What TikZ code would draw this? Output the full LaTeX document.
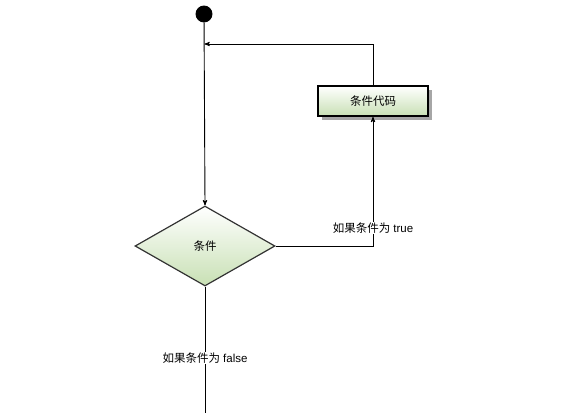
\documentclass[tikz,border=0pt]{standalone}
\usepackage{fontspec}
\setmainfont{Liberation Sans}
\newfontfamily\cjk{Noto Sans CJK SC}
\usetikzlibrary{arrows,shapes.geometric,shadows}
\definecolor{leafgreen}{RGB}{200,224,180}
\begin{document}
\begin{tikzpicture}[x=1pt,y=-1pt,->,>=stealth',thick,
  line width=0.9pt,font=\fontsize{11.5}{13}\selectfont,
  start node/.style={circle,fill=black,draw,minimum size=16pt,inner sep=0pt},
  test node/.style={diamond,draw=black!80,line width=1.2pt,minimum width=140pt,
    minimum height=80pt,inner sep=0pt,top color=white,bottom color=leafgreen},
  code node/.style={rectangle,draw,line width=1.6pt,minimum width=110pt,
    minimum height=30pt,top color=white,bottom color=leafgreen,
    drop shadow={shadow xshift=4pt,shadow yshift=-4pt,fill=black!35,opacity=1}},
  branch/.style={fill=white,inner sep=1pt}]
  \useasboundingbox (0,0) rectangle (564,413);

  \node[start node] (start) at (204,14) {};
  \node[test node] (cond) at (205,246) {\cjk 条件};
  \node[code node] (code) at (373,101) {\cjk 条件代码};
  \coordinate (back) at (204.5,44);
  \coordinate (out) at (205,413);

  \draw (start) -- (cond.north);
  \draw (cond.east) -| (code.south);
  \draw (code.north) |- (back);
  \draw[-] (cond.south) -- (out);

  \node[branch] (yes) at (373,228) {{\cjk 如果条件为} true};
  \node[branch] (no) at (205,358) {{\cjk 如果条件为} false};
\end{tikzpicture}
\end{document}
